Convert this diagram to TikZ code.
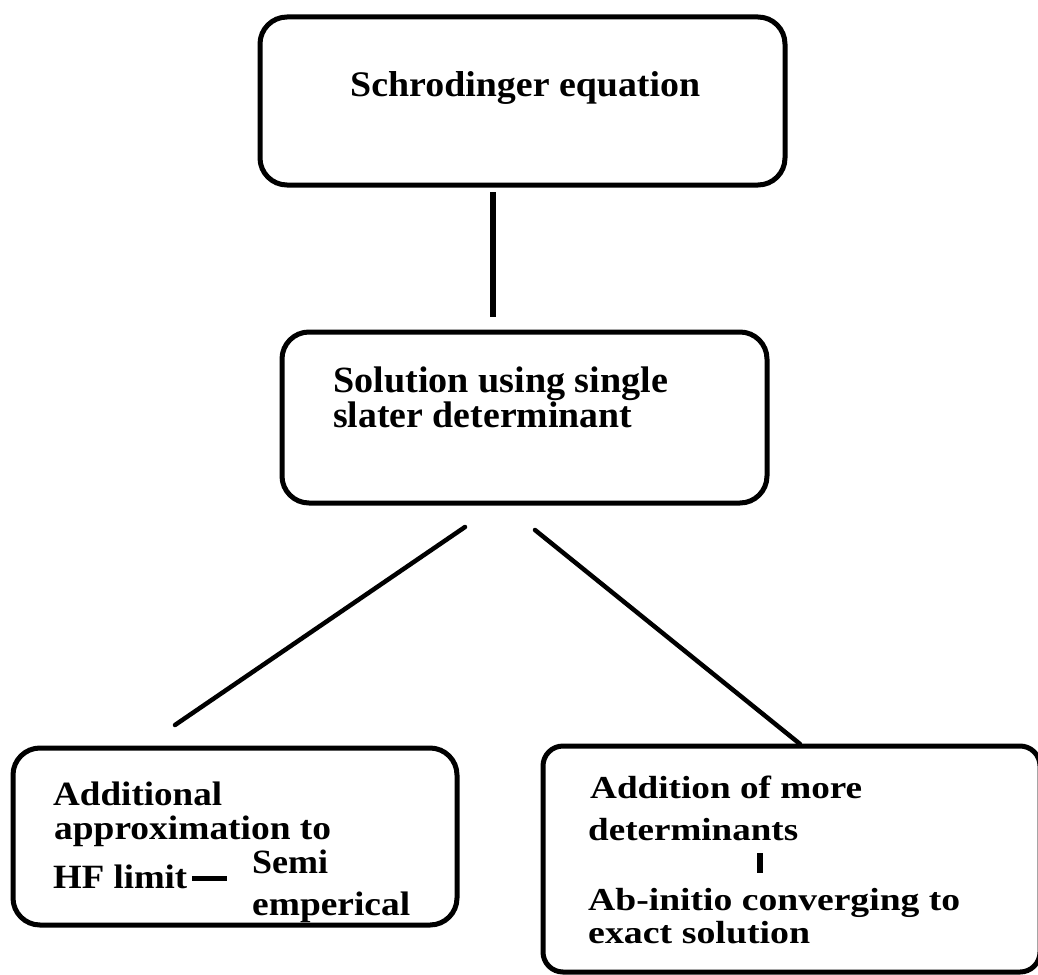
\documentclass[tikz,border=0pt]{standalone}
\usepackage{fontspec}
\usepackage{graphicx}
\setmainfont{Liberation Serif}
% set a text line to a given width, keeping its height
\newcommand{\fitw}[2]{\resizebox{#1pt}{\height}{#2}}
\begin{document}
\begin{tikzpicture}[x=1pt,y=-1pt,
  box/.style={draw, line width=5pt, rounded corners=27pt, inner sep=0pt},
  txt/.style={anchor=base west, inner sep=0pt, font=\fontsize{#1}{#1}\selectfont\bfseries},
  link/.style={line width=5pt}]
\useasboundingbox (0,0) rectangle (1038,974);

% boxes
\node[box, minimum width=525pt, minimum height=168pt] (schr) at (522.5,101) {};
\node[box, minimum width=485pt, minimum height=171pt] (slater) at (524.5,417.5) {};
\node[box, minimum width=444pt, minimum height=177pt] (approx) at (235,836.5) {};
\node[box, minimum width=497pt, minimum height=226pt, rounded corners=20pt] (more) at (791.5,859) {};

% box texts
\node[txt=36] (t1) at (350,96) {\fitw{350}{Schrodinger equation}};
\node[txt=37] (t2a) at (333,392) {\fitw{335}{Solution using single}};
\node[txt=37] (t2b) at (333,427) {\fitw{299}{slater determinant}};
\node[txt=34] (t3a) at (53,805) {\fitw{169}{Additional}};
\node[txt=34] (t3b) at (54,839) {\fitw{277}{approximation to}};
\node[txt=34] (t3c) at (53,888) {\fitw{134}{HF limit}};
\node[txt=34] (t3d) at (252,873) {\fitw{76}{Semi}};
\node[txt=34] (t3e) at (252,915) {\fitw{158}{emperical}};
\node[txt=32] (t4a) at (590,798) {\fitw{272}{Addition of more}};
\node[txt=32] (t4b) at (588,840) {\fitw{210}{determinants}};
\node[txt=32] (t4c) at (588,910) {\fitw{372}{Ab-initio converging to}};
\node[txt=32] (t4d) at (588,943) {\fitw{222}{exact solution}};

% connector end points
\coordinate (a1) at (493,192);
\coordinate (a2) at (493,317);
\coordinate (b1) at (465,527);
\coordinate (b2) at (175,725);
\coordinate (c1) at (535,530);
\coordinate (c2) at (800,744);
\coordinate (d1) at (192,878);
\coordinate (d2) at (227,878);
\coordinate (e1) at (760,853);
\coordinate (e2) at (760,873);

% connectors
\draw[link, line width=6pt] (a1) -- (a2);
\draw[link, line width=4.5pt, line cap=round] (b1) -- (b2);
\draw[link, line width=4.5pt, line cap=round] (c1) -- (c2);
\draw[link] (d1) -- (d2);
\draw[link, line width=6pt] (e1) -- (e2);
\end{tikzpicture}
\end{document}
